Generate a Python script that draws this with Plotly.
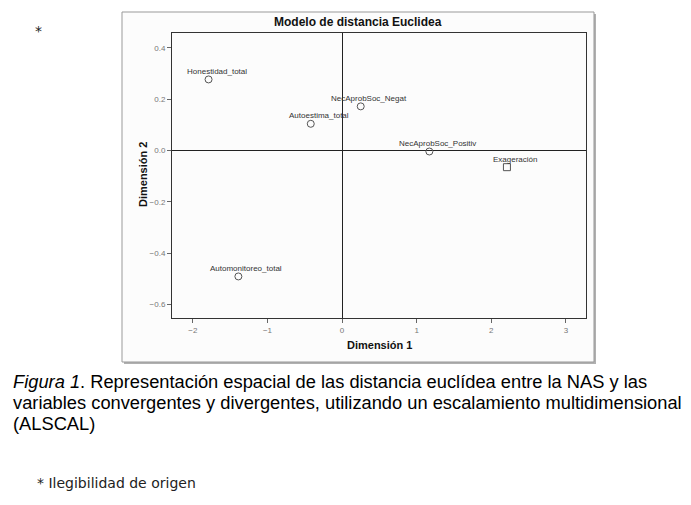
import plotly.graph_objects as go

W, H = 691, 505
OFF = 8  # page body margin

# Data
labels = ["Honestidad_total", "NecAprobSoc_Negat", "Autoestima_total",
          "NecAprobSoc_Positiv", "Exageración", "Automonitoreo_total"]
dim1 = [-1.79, 0.25, -0.42, 1.17, 2.21, -1.39]
dim2 = [0.277, 0.172, 0.104, -0.004, -0.065, -0.491]
symbols = ["circle-open", "circle-open", "circle-open", "circle-open", "square-open", "circle-open"]

x_ticks = [-2, -1, 0, 1, 2, 3]
y_ticks = [0.4, 0.2, 0.0, -0.2, -0.4, -0.6]

caption_lines = [
    "<i>Figura 1</i>. Representación espacial de las distancia euclídea entre la NAS y las",
    "variables convergentes y divergentes, utilizando un escalamiento multidimensional",
    "(ALSCAL)",
]


def px(x):
    return (x - OFF) / W


def py(y):
    return 1 - (y - OFF) / H


fig = go.Figure()
fig.add_trace(go.Scatter(
    x=dim1, y=dim2, mode="markers",
    marker=dict(symbol=symbols, size=7, color="#555", line=dict(width=1, color="#555")),
    showlegend=False, hoverinfo="skip"))

annotations = []
for lab, xv, yv in zip(labels, dim1, dim2):
    annotations.append(dict(x=xv, y=yv, xref="x", yref="y", text=lab, showarrow=False,
                            xshift=8, yshift=8, font=dict(family="Liberation Sans", size=8, color="#333")))


def txt(x, y, text, size, family="Liberation Sans", xanchor="center", angle=0, color="#111"):
    return dict(x=px(x), y=py(y), xref="paper", yref="paper", text=text, showarrow=False,
                xanchor=xanchor, yanchor="middle", textangle=angle,
                font=dict(family=family, size=size, color=color))


annotations += [
    txt(358, 22, "<b>Modelo de distancia Euclidea</b>", 12),
    txt(379, 345, "<b>Dimensión 1</b>", 11),
    txt(143, 175, "<b>Dimensión 2</b>", 11, angle=-90),
    txt(38, 31, "*", 14, family="DejaVu Sans", color="#222"),
    txt(35, 483, "* Ilegibilidad de origen", 14, family="DejaVu Sans", xanchor="left", color="#222"),
]
for i, line in enumerate(caption_lines):
    annotations.append(txt(11, 381 + 21 * i, line, 18.3, xanchor="left", color="#000"))

shapes = [
    dict(type="rect", xref="paper", yref="paper", x0=px(124), x1=px(596), y0=py(14), y1=py(364),
         line=dict(width=0), fillcolor="#b0b0b0", layer="below"),
    dict(type="rect", xref="paper", yref="paper", x0=px(122), x1=px(594), y0=py(12), y1=py(362),
         line=dict(width=1, color="#999"), fillcolor="#fcfcfc", layer="below"),
]

axis_common = dict(showline=True, mirror=True, linecolor="#333", linewidth=1,
                   showgrid=False, zeroline=True, zerolinecolor="#222", zerolinewidth=1,
                   ticks="outside", ticklen=4, tickcolor="#666",
                   tickfont=dict(family="Liberation Sans", size=8, color="#777"))

fig.update_layout(
    width=W, height=H, margin=dict(l=0, r=0, t=0, b=0),
    paper_bgcolor="white", plot_bgcolor="rgba(0,0,0,0)",
    xaxis=dict(domain=[px(172), px(586)], range=[-2.28, 3.27], tickvals=x_ticks, **axis_common),
    yaxis=dict(domain=[py(318), py(33)], range=[-0.653, 0.458], tickvals=y_ticks, tickformat=".1f", **axis_common),
    annotations=annotations, shapes=shapes,
)

fig.write_html("out.html")
